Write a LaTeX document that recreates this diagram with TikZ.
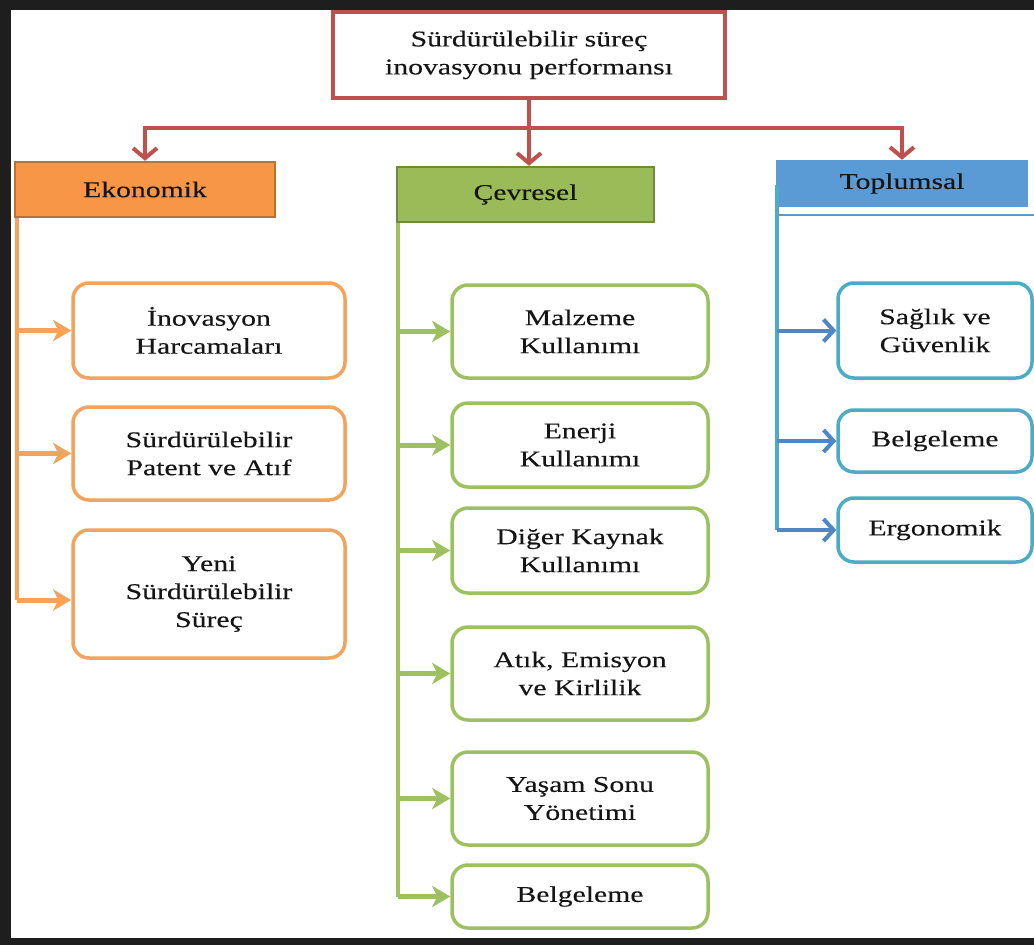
\documentclass[tikz,border=0pt]{standalone}
\usepackage{fontspec}
\setmainfont{Liberation Serif}[FakeStretch=1.32,FakeBold=0.25]
\usetikzlibrary{arrows.meta}

\definecolor{framek}{HTML}{1E1E1E}
\definecolor{txt}{HTML}{151515}
\definecolor{rootred}{HTML}{C0504D}
\definecolor{ofill}{HTML}{F79646}
\definecolor{oedge}{HTML}{B9722F}
\definecolor{oline}{HTML}{F4A35C}
\definecolor{gfill}{HTML}{9BBB59}
\definecolor{gedge}{HTML}{6E8B3D}
\definecolor{gline}{HTML}{9DC061}
\definecolor{bfill}{HTML}{5B9BD5}
\definecolor{bline}{HTML}{4F86C6}
\definecolor{bedge}{HTML}{4BACC6}

\begin{document}
\begin{tikzpicture}[x=1pt,y=-1pt,
  every node/.style={font=\fontsize{22.5}{28}\selectfont, text=txt, align=center, inner sep=0pt},
  rootbox/.style={draw=rootred, line width=4pt, fill=white, minimum width=392pt, minimum height=86pt},
  headbox/.style={line width=2.5pt},
  obox/.style={draw=oline, line width=3.5pt, rounded corners=16pt, fill=white, minimum width=272pt},
  gbox/.style={draw=gline, line width=3.5pt, rounded corners=16pt, fill=white, minimum width=256pt},
  bbox/.style={draw=bedge, line width=3.5pt, rounded corners=16pt, fill=white, minimum width=194pt},
  rarr/.style={draw=rootred, line width=4pt, -{Straight Barb[length=10pt,width=24pt]}},
  otrunk/.style={draw=oline, line width=4pt},
  oarr/.style={draw=oline, line width=5pt, -{Stealth[length=18pt,width=21pt,inset=5pt]}},
  gtrunk/.style={draw=gline, line width=4pt},
  garr/.style={draw=gline, line width=5pt, -{Stealth[length=18pt,width=21pt,inset=5pt]}},
  btrunk/.style={draw=bedge, line width=4pt},
  barr/.style={draw=bline, line width=4pt, -{Straight Barb[length=10pt,width=22pt]}}
]
\useasboundingbox (0,0) rectangle (1034,945);
\fill[white] (0,0) rectangle (1034,945);

% outer frame
\fill[framek] (0,0) rectangle (1034,10);
\fill[framek] (0,0) rectangle (11,945);
\fill[framek] (0,938) rectangle (1034,945);

% root
\node[rootbox] (root) at (529,55) {Sürdürülebilir süreç\\inovasyonu performansı};

% three dimension headers
\node[headbox, draw=oedge, fill=ofill, minimum width=260pt, minimum height=55pt] (eko) at (145,189.5) {Ekonomik};
\node[headbox, draw=gedge, fill=gfill, minimum width=257pt, minimum height=55pt] (cev) at (525.5,194.5) {Çevresel};
\node[fill=bfill, minimum width=252pt, minimum height=47pt] (top) at (902,183.5) {Toplumsal};
\coordinate (tline) at (776,215);
\draw[bfill!80!gray, line width=2pt] (tline) -- (1034,215);

% red distribution
\coordinate (rbar) at (0,128);
\draw[rarr] (root.south) -- (root.south |- cev.north);
\draw[rarr, line cap=rect] (root.south |- rbar) -| (eko.north);
\draw[rarr, line cap=rect] (root.south |- rbar) -| (top.north);

% economic items
\node[obox, minimum height=95pt] (o1) at (209,330.5) {İnovasyon\\Harcamaları};
\node[obox, minimum height=93pt] (o2) at (209,453.5) {Sürdürülebilir\\Patent ve Atıf};
\node[obox, minimum height=128pt] (o3) at (209,594) {Yeni\\Sürdürülebilir\\Süreç};
\coordinate (ot) at (17,0);
\draw[otrunk] (ot |- eko.south) -- ([yshift=-6pt]ot |- o3.west);
\foreach \n in {o1,o2} \draw[oarr] (ot |- \n.west) -- (\n.west);
\draw[oarr] ([yshift=-6pt]ot |- o3.west) -- ([yshift=-6pt]o3.west);

% environmental items
\node[gbox, minimum height=93pt] (g1) at (580,331.5) {Malzeme\\Kullanımı};
\node[gbox, minimum height=84pt] (g2) at (580,445) {Enerji\\Kullanımı};
\node[gbox, minimum height=85pt] (g3) at (580,550.5) {Diğer Kaynak\\Kullanımı};
\node[gbox, minimum height=93pt] (g4) at (580,673.5) {Atık, Emisyon\\ve Kirlilik};
\node[gbox, minimum height=93pt] (g5) at (580,798.5) {Yaşam Sonu\\Yönetimi};
\node[gbox, minimum height=63pt] (g6) at (580,896.5) {Belgeleme};
\coordinate (gt) at (398,0);
\draw[gtrunk] (gt |- cev.south) -- (gt |- g6.west);
\foreach \n in {g1,g2,g3,g4,g5,g6} \draw[garr] (gt |- \n.west) -- (\n.west);

% social items
\node[bbox, minimum height=95pt] (b1) at (935,330.5) {Sağlık ve\\Güvenlik};
\node[bbox, minimum height=62pt] (b2) at (935,441) {Belgeleme};
\node[bbox, minimum height=64pt] (b3) at (935,530) {Ergonomik};
\coordinate (bt) at (777,185);
\draw[btrunk] (bt) -- (bt |- b3.west);
\foreach \n in {b1,b2,b3} \draw[barr] (bt |- \n.west) -- (\n.west);
\end{tikzpicture}
\end{document}
